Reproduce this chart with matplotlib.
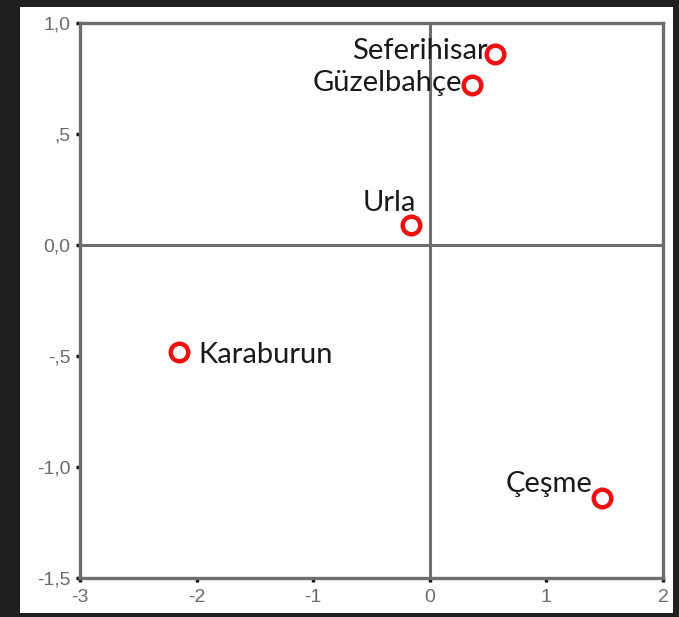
import matplotlib
matplotlib.use("Agg")
import matplotlib.pyplot as plt
from matplotlib.patches import Rectangle

# data
places = ["Seferihisar", "Güzelbahçe", "Urla", "Karaburun", "Çeşme"]
dim1 = [0.56, 0.36, -0.16, -2.15, 1.48]
dim2 = [0.86, 0.72, 0.09, -0.48, -1.14]

xticks = [-3, -2, -1, 0, 1, 2]
yticks = [1.0, 0.5, 0.0, -0.5, -1.0, -1.5]
ytick_labels = ["1,0", ",5", "0,0", "-,5", "-1,0", "-1,5"]

# label placement (offset in points from the point, horizontal alignment); baseline aligned
label_style = {
    "Seferihisar": ((-5, -3.5), "right"),
    "Güzelbahçe": ((-7, -4.3), "right"),
    "Urla": ((3.6, 10), "right"),
    "Karaburun": ((14, -8), "left"),
    "Çeşme": ((-7, 4.3), "right"),
}

fig = plt.figure(figsize=(6.79, 6.17), dpi=100, facecolor="#1f1f1f")
fig.patches.append(Rectangle((0.0295, 0.0065), 0.9615, 0.982, transform=fig.transFigure,
                             facecolor="white", edgecolor="none", zorder=-1))
ax = fig.add_axes([0.1178, 0.0632, 0.8586, 0.8995])
ax.set_facecolor("white")

ax.axhline(0, color="#6e6e6e", lw=2.2, zorder=1)
ax.axvline(0, color="#6e6e6e", lw=2.2, zorder=1)

ax.scatter(dim1, dim2, s=160, facecolors="white", edgecolors="#ee1111", linewidths=3.2, zorder=3)

for name, x, y in zip(places, dim1, dim2):
    off, ha = label_style[name]
    ax.annotate(name, (x, y), xytext=off, textcoords="offset points", ha=ha, va="baseline",
                fontsize=21, color="#1a1a1a", family="Lato", zorder=4)

ax.set_xlim(-3, 2)
ax.set_ylim(-1.5, 1.0)
ax.set_xticks(xticks)
ax.set_xticklabels([str(t) for t in xticks])
ax.set_yticks(yticks)
ax.set_yticklabels(ytick_labels)
ax.tick_params(direction="out", length=3, width=2.5, color="#111111",
               labelsize=14, labelcolor="#6a6a72")
ax.tick_params(axis="y", pad=4)
ax.tick_params(axis="x", pad=5)
for lbl in ax.get_xticklabels() + ax.get_yticklabels():
    lbl.set_family("Liberation Sans")

for s in ax.spines.values():
    s.set_color("#6e6e6e")
    s.set_linewidth(2.4)

fig.savefig("out.png", dpi=100, facecolor=fig.get_facecolor())
